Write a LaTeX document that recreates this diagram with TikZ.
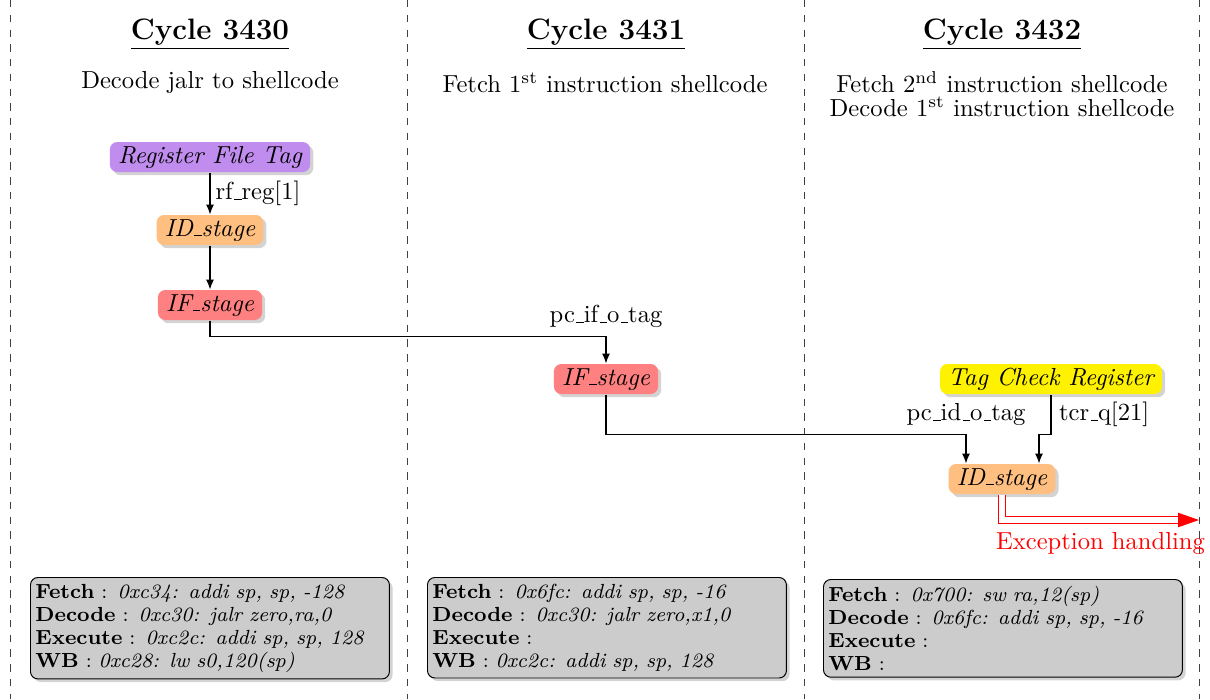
\documentclass[tikz,border=0pt]{standalone}
\usetikzlibrary{shadows,arrows.meta,calc}
\definecolor{rftcol}{RGB}{192,140,238}
\newcommand\us{\leavevmode\kern.06em\vbox{\hrule width.3em}}
\begin{document}
\begin{tikzpicture}[x=0.4065pt,y=-0.4065pt,
  stage/.style={rounded corners=3pt, inner xsep=3.3pt, inner ysep=1.6pt,
    text height=7pt, text depth=2pt, font=\itshape,
    drop shadow={shadow xshift=1.3pt, shadow yshift=-1.3pt, opacity=.35}},
  arr/.style={-{Latex[length=4pt,width=3.2pt]}, line width=0.5pt},
  info/.style={draw, rounded corners=3pt, fill=gray!40, text width=141.9pt,
    align=left, inner xsep=2pt, inner ysep=2.6pt, anchor=north west,
    font={\fontsize{8.3}{9.4}\selectfont\lineskiplimit=-10pt},
    drop shadow={shadow xshift=1.3pt, shadow yshift=-1.3pt, opacity=.35}},
  sepline/.style={dashed, black!75, line width=0.4pt},
  title/.style={anchor=base, font=\large\bfseries},
  sub/.style={anchor=base, align=center, font={\fontsize{10}{9.8}\selectfont}},
  lbl/.style={font=\normalsize}]
\useasboundingbox (0,0) rectangle (1210,699);

% column separators
\draw[sepline] (10,0) -- (10,699);
\draw[sepline] (407,0) -- (407,699);
\draw[sepline] (804,0) -- (804,699);
\draw[sepline] (1199,0) -- (1199,699);

% titles
\node[title] (t1) at (210,39) {\underline{Cycle 3430}};
\node[title] (t2) at (606,39) {\underline{Cycle 3431}};
\node[title] (t3) at (1002,39) {\underline{Cycle 3432}};

\node[sub] (s1) at (210,88) {Decode jalr to shellcode};
\node[sub] (s2) at (605,92) {Fetch 1\textsuperscript{st} instruction shellcode};
\node[sub, anchor=north] (s3) at (1002,63) {Fetch 2\textsuperscript{nd} instruction shellcode\\Decode 1\textsuperscript{st} instruction shellcode};

% stage nodes
\node[stage, fill=rftcol] (rft) at (210,157) {Register File Tag};
\node[stage, fill=orange!50] (id1) at (210,230) {ID\us stage};
\node[stage, fill=red!50] (if1) at (210,305) {IF\us stage};
\node[stage, fill=red!50] (if2) at (606,379) {IF\us stage};
\node[stage, fill=yellow] (tcr) at (1051,379) {Tag Check Register};
\node[stage, fill=orange!50] (id3) at (1002,479) {ID\us stage};
\coordinate (exc) at (1199,520);

% connectors
\draw[arr] (rft) -- node[right, lbl, inner sep=2pt] {rf\us reg[1]} (id1);
\draw[arr] (id1) -- (if1);
\draw[arr] (if1.south) -- ++(0,16) -| node[pos=0.5, above, lbl] {pc\us if\us o\us tag} (if2.north);
\draw[arr] (if2.south) -- ++(0,40) -| node[pos=0.5, above, lbl] {pc\us id\us o\us tag} ($(id3.north)+(-36,0)$);
\draw[arr] (tcr.south) -- node[right, lbl, inner sep=3pt] {tcr\us q[21]} ++(0,40) -| ($(id3.north)+(37,0)$);
\draw[red, double, double distance=2.4pt, line width=0.45pt,
  -{Triangle[length=8.5pt,width=5.8pt]}] (id3.south) |- node[pos=0.75, below=3pt, text=red, inner sep=2pt] {Exception handling} (exc);

% info boxes
\node[info] (b1) at (30,577) {\textbf{Fetch} : \textit{0xc34: addi sp, sp, -128}\\
\textbf{Decode} : \textit{0xc30: jalr zero,ra,0}\\
\textbf{Execute} : \textit{0xc2c: addi sp, sp, 128}\\
\textbf{WB} : \textit{0xc28: lw s0,120(sp)}};
\node[info] (b2) at (427,577) {\textbf{Fetch} : \textit{0x6fc: addi sp, sp, -16}\\
\textbf{Decode} : \textit{0xc30: jalr zero,x1,0}\\
\textbf{Execute} : \\
\textbf{WB} : \textit{0xc2c: addi sp, sp, 128}};
\node[info] (b3) at (823,579) {\textbf{Fetch} : \textit{0x700: sw ra,12(sp)}\\
\textbf{Decode} : \textit{0x6fc: addi sp, sp, -16}\\
\textbf{Execute} : \\
\textbf{WB} : };
\end{tikzpicture}
\end{document}
